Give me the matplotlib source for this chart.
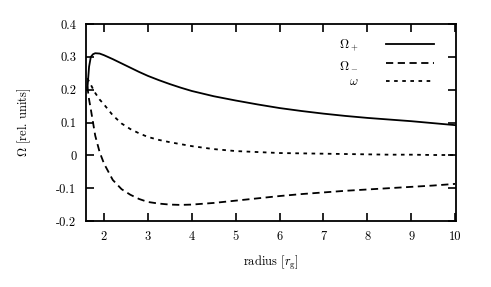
import matplotlib
matplotlib.use("Agg")
import matplotlib.pyplot as plt

plt.rcParams['font.family'] = ['cmr10', 'DejaVu Serif']
plt.rcParams['mathtext.fontset'] = 'cm'
plt.rcParams['axes.unicode_minus'] = False

radius = [1.62, 1.66, 1.70, 1.75, 1.80, 1.90, 2.0, 2.2, 2.4, 2.6, 2.8, 3.0,
          3.25, 3.5, 3.75, 4.0, 4.5, 5.0, 5.5, 6.0, 6.5, 7.0, 7.5, 8.0, 8.5, 9.0, 9.5, 10.0]
omega_plus = [0.20, 0.27, 0.300, 0.308, 0.311, 0.310, 0.305, 0.293, 0.280, 0.267,
              0.254, 0.242, 0.229, 0.217, 0.206, 0.196, 0.180, 0.167, 0.155, 0.144,
              0.135, 0.127, 0.120, 0.114, 0.109, 0.104, 0.098, 0.092]
omega_minus = [0.21, 0.17, 0.14, 0.10, 0.06, 0.01, -0.025, -0.075, -0.103, -0.12,
               -0.133, -0.142, -0.147, -0.150, -0.151, -0.150, -0.145, -0.138, -0.131, -0.124,
               -0.118, -0.113, -0.108, -0.104, -0.100, -0.096, -0.092, -0.087]
omega_frame = [0.235, 0.225, 0.215, 0.202, 0.19, 0.17, 0.155, 0.122, 0.097, 0.080,
               0.067, 0.056, 0.047, 0.040, 0.034, 0.028, 0.019, 0.013, 0.010, 0.007,
               0.006, 0.005, 0.004, 0.003, 0.002, 0.002, 0.001, 0.001]

xticks = [2, 3, 4, 5, 6, 7, 8, 9, 10]
yticks = [-0.2, -0.1, 0, 0.1, 0.2, 0.3, 0.4]
ytick_labels = ['-0.2', '-0.1', '0', '0.1', '0.2', '0.3', '0.4']

fig = plt.figure(figsize=(4.91, 2.87), dpi=100)
ax = fig.add_axes([86/491, 1-221/287, (456-86)/491, (221-24)/287])

ax.plot(radius, omega_plus, color='black', lw=1.3, ls='-', label=r'$\Omega_+$')
ax.plot(radius, omega_minus, color='black', lw=1.3, ls=(0, (4, 2.5)), label=r'$\Omega_-$')
ax.plot(radius, omega_frame, color='black', lw=1.3, ls=(0, (2, 2.5)), label=r'$\omega$')

ax.set_xlim(1.59, 10.02)
ax.set_ylim(-0.2, 0.4)
ax.set_xticks(xticks)
ax.set_xticklabels([str(t) for t in xticks])
ax.set_yticks(yticks)
ax.set_yticklabels(ytick_labels)
ax.tick_params(direction='in', length=6, width=1.2, top=True, right=True,
               labelsize=9, pad=7)
for s in ax.spines.values():
    s.set_linewidth(1.3)

ax.set_xlabel(r'radius [$r_{\rm g}$]', fontsize=9, labelpad=8)
ax.set_ylabel(r'$\Omega$ [rel. units]', fontsize=9, labelpad=17)

leg = ax.legend(loc='upper right', frameon=False, markerfirst=False, fontsize=9,
                handlelength=3.8, handletextpad=2.2, labelspacing=0.45,
                bbox_to_anchor=(0.97, 0.99))

fig.savefig('out.png', dpi=100)
